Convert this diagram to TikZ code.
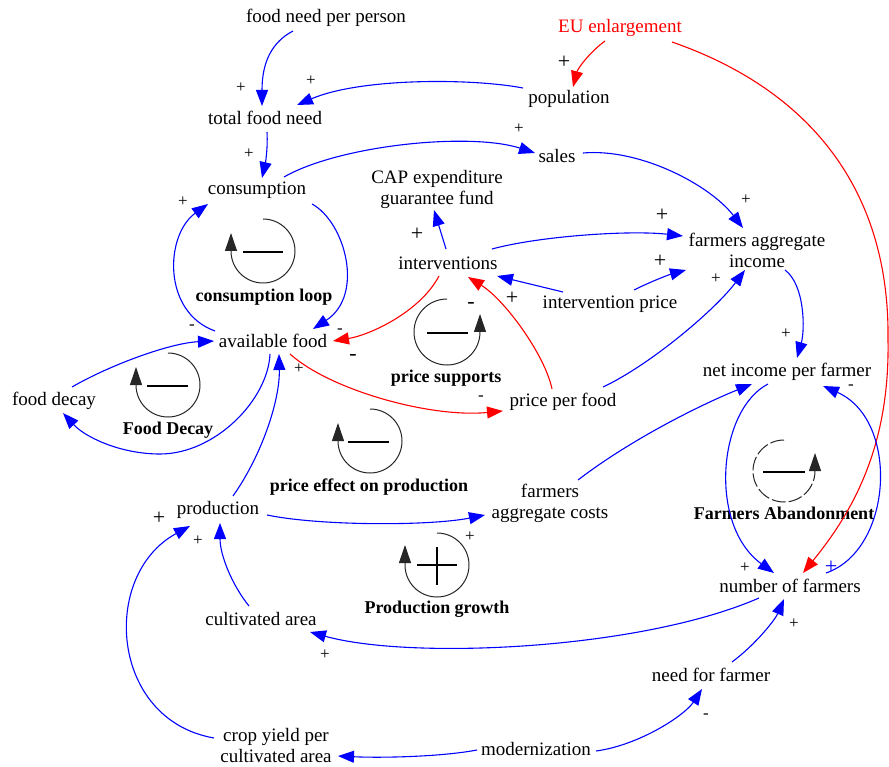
\documentclass[tikz,border=0pt]{standalone}
\usepackage{fontspec}
\setmainfont{Liberation Serif}
\usetikzlibrary{arrows.meta,calc}
\tikzset{
 var/.style={inner sep=0pt, font=\fontsize{19}{21}\selectfont, align=center},
 loopname/.style={inner sep=0pt, font=\fontsize{18}{20}\selectfont\bfseries},
 pol/.style={inner sep=0pt, font=\fontsize{17}{19}\selectfont},
 polbig/.style={inner sep=0pt, font=\fontsize{22}{24}\selectfont},
 bl/.style={draw=blue, line width=1.1pt, -{Triangle[length=16pt,width=12pt]}},
 rd/.style={draw=red, line width=1.1pt, -{Triangle[length=16pt,width=12pt]}},
 loopc/.style={draw=black!85, line width=1pt},
 looparr/.style={-{Triangle[length=18pt,width=12pt]}},
 signbar/.style={draw=black, line width=2.6pt},
}
\begin{document}
\begin{tikzpicture}[x=1pt,y=-1pt]
\useasboundingbox (0,0) rectangle (889,767);
% variables
\node[var] (fnp) at (326,18) {food need per person};
\node[var,text=red] (eu) at (620,28) {EU enlargement};
\node[var] (pop) at (569,99) {population};
\node[var] (tfn) at (265,118) {total food need};
\node[var] (sales) at (557,156) {sales};
\node[var] (cons) at (257,190) {consumption};
\node[var] (cap) at (437,189) {CAP expenditure\\guarantee fund};
\node[var] (fai) at (757,250) {farmers aggregate\\income};
\node[var] (intv) at (448,263) {interventions};
\node[var] (ip) at (610,304) {intervention price};
\node[var] (af) at (273,341) {available food};
\node[var] (nipf) at (787,372) {net income per farmer};
\node[var] (fd) at (54,401) {food decay};
\node[var] (ppf) at (563,402) {price per food};
\node[var] (fac) at (550,503) {farmers\\aggregate costs};
\node[var] (prod) at (218,510) {production};
\node[var] (nof) at (790,586) {number of farmers};
\node[var] (ca) at (261,619) {cultivated area};
\node[var] (nff) at (711,675) {need for farmer};
\node[var] (cy) at (276,745) {crop yield per\\cultivated area};
\node[var] (mod) at (536,749) {modernization};
% loop names
\node[loopname] (l1) at (264,297) {consumption loop};
\node[loopname] (l2) at (168,430) {Food Decay};
\node[loopname] (l3) at (446,378) {price supports};
\node[loopname] (l4) at (369,487) {price effect on production};
\node[loopname] (l5) at (437,609) {Production growth};
\node[loopname] (l6) at (784,513) {Farmers Abandonment};
% connectors
\draw[bl] ($(fnp)+(-33,13)$) .. controls (272,42) and (262,62) .. ($(tfn)+(-3,-12)$);
\draw[bl] ($(pop)+(-46,-11)$) .. controls (470,78) and (360,78) .. ($(tfn)+(32,-13)$);
\draw[rd] ($(eu)+(-15,13)$) .. controls (590,52) and (578,68) .. ($(pop)+(4,-12)$);
\draw[rd] ($(eu)+(52,14)$) .. controls (810,90) and (890,190) .. (888,340) .. controls (890,450) and (850,515) .. ($(nof)+(13,-13)$);
\draw[bl] ($(tfn)+(2,14)$) .. controls (268,150) and (265,165) .. ($(cons)+(5,-12)$);
\draw[bl] ($(cons)+(27,-13)$) .. controls (340,145) and (470,132) .. ($(sales)+(-22,-3)$);
\draw[bl] ($(sales)+(26,-3)$) .. controls (640,148) and (710,185) .. ($(fai)+(-14,-22)$);
\draw[bl] ($(cons)+(55,14)$) .. controls (345,222) and (365,295) .. ($(af)+(40,-12)$);
\draw[bl] ($(af)+(-58,-10)$) .. controls (162,312) and (165,235) .. ($(cons)+(-49,14)$);
\draw[bl] ($(fd)+(18,-14)$) .. controls (110,365) and (170,343) .. ($(af)+(-59,0)$);
\draw[bl] ($(af)+(-3,13)$) .. controls (268,400) and (215,454) .. (160,454) .. controls (120,454) and (85,437) .. ($(fd)+(9,12)$);
\draw[bl] ($(prod)+(15,-14)$) .. controls (262,455) and (280,400) .. ($(af)+(6,13)$);
\draw[rd] ($(af)+(17,13)$) .. controls (330,390) and (430,418) .. ($(ppf)+(-60,9)$);
\draw[rd] ($(intv)+(-9,13)$) .. controls (420,312) and (370,335) .. ($(af)+(60,0)$);
\draw[rd] ($(ppf)+(-11,-13)$) .. controls (545,355) and (505,300) .. ($(intv)+(20,14)$);
\draw[bl] ($(intv)+(-2,-14)$) -- ($(cap)+(-3,21)$);
\draw[bl] ($(intv)+(44,-14)$) .. controls (540,236) and (630,230) .. ($(fai)+(-74,-14)$);
\draw[bl] ($(ip)+(-47,-12)$) -- ($(intv)+(49,13)$);
\draw[bl] ($(ip)+(24,-14)$) .. controls (650,282) and (668,275) .. ($(fai)+(-71,20)$);
\draw[bl] ($(ppf)+(40,-15)$) .. controls (650,365) and (715,310) .. ($(fai)+(-12,20)$);
\draw[bl] ($(fai)+(28,20)$) .. controls (805,285) and (805,330) .. ($(nipf)+(10,-14)$);
\draw[bl] ($(fac)+(28,-23)$) .. controls (630,440) and (700,405) .. ($(nipf)+(-35,12)$);
\draw[bl] ($(nipf)+(-19,12)$) .. controls (718,410) and (708,525) .. ($(nof)+(-16,-13)$);
\draw[bl] ($(nof)+(36,-13)$) .. controls (893,550) and (900,420) .. ($(nipf)+(36,14)$);
\draw[bl] ($(nof)+(-31,12)$) .. controls (640,650) and (410,660) .. ($(ca)+(49,13)$);
\draw[bl] ($(nff)+(21,-13)$) .. controls (755,645) and (775,620) .. ($(nof)+(-6,13)$);
\draw[bl] ($(mod)+(60,2)$) .. controls (640,745) and (685,715) .. ($(nff)+(-9,14)$);
\draw[bl] ($(mod)+(-59,1)$) .. controls (440,757) and (380,758) .. ($(cy)+(62,11)$);
\draw[bl] ($(cy)+(-62,-7)$) .. controls (110,720) and (100,575) .. ($(prod)+(-28,16)$);
\draw[bl] ($(ca)+(-12,-13)$) .. controls (232,585) and (220,555) .. ($(prod)+(2,13)$);
\draw[bl] ($(prod)+(49,5)$) .. controls (320,526) and (430,526) .. ($(fac)+(-65,12)$);
% polarity signs
\node[pol] (s1) at (241,88) {+};
\node[pol] (s2) at (311,81) {+};
\node[polbig] (s3) at (564,62) {+};
\node[pol] (s5) at (249,154) {+};
\node[pol] (s6) at (519,129) {+};
\node[pol] (s7) at (746,200) {+};
\node[pol] (s9) at (183,202) {+};
\node[pol] (s10) at (192,327) {-};
\node[pol] (s8) at (340,331) {-};
\node[polbig] (s14) at (353,357) {-};
\node[pol] (s12) at (299,369) {+};
\node[pol] (s13) at (481,398) {-};
\node[polbig] (s15) at (471,305) {-};
\node[polbig] (s16) at (417,234) {+};
\node[polbig] (s17) at (662,215) {+};
\node[polbig] (s18) at (512,298) {+};
\node[polbig] (s19) at (660,261) {+};
\node[pol] (s20) at (716,279) {+};
\node[pol] (s21) at (786,334) {+};
\node[pol] (s24) at (851,387) {-};
\node[pol] (s23) at (745,568) {+};
\node[polbig,text=blue] (s24b) at (831,567) {+};
\node[pol] (s26) at (794,624) {+};
\node[pol] (s27) at (706,716) {-};
\node[pol] (s25) at (325,655) {+};
\node[polbig] (s29) at (159,518) {+};
\node[pol] (s30) at (198,541) {+};
\node[pol] (s31) at (470,537) {+};
% loop symbols
\draw[loopc,looparr] (263,219) arc[start angle=270,end angle=540,radius=32] -- ++(0,-18);
\draw[signbar] (243,252) -- (283,252);
\draw[loopc,looparr] (168,353) arc[start angle=270,end angle=540,radius=32] -- ++(0,-18);
\draw[signbar] (147,386) -- (188,386);
\draw[loopc,looparr] (370,409) arc[start angle=270,end angle=540,radius=32] -- ++(0,-18);
\draw[signbar] (348,442) -- (389,442);
\draw[loopc,looparr] (437,533) arc[start angle=270,end angle=540,radius=32] -- ++(0,-20);
\draw[signbar] (417,565) -- (457,565);
\draw[signbar] (437,547) -- (437,585);
\draw[loopc,looparr] (447,299) arc[start angle=270,end angle=0,radius=33] -- ++(0,-18);
\draw[signbar] (427,333) -- (468,333);
\draw[loopc,looparr,dash pattern=on 14pt off 3pt] (784,440) arc[start angle=270,end angle=0,radius=31] -- ++(0,-18);
\draw[signbar] (763,472) -- (805,472);
\end{tikzpicture}
\end{document}
